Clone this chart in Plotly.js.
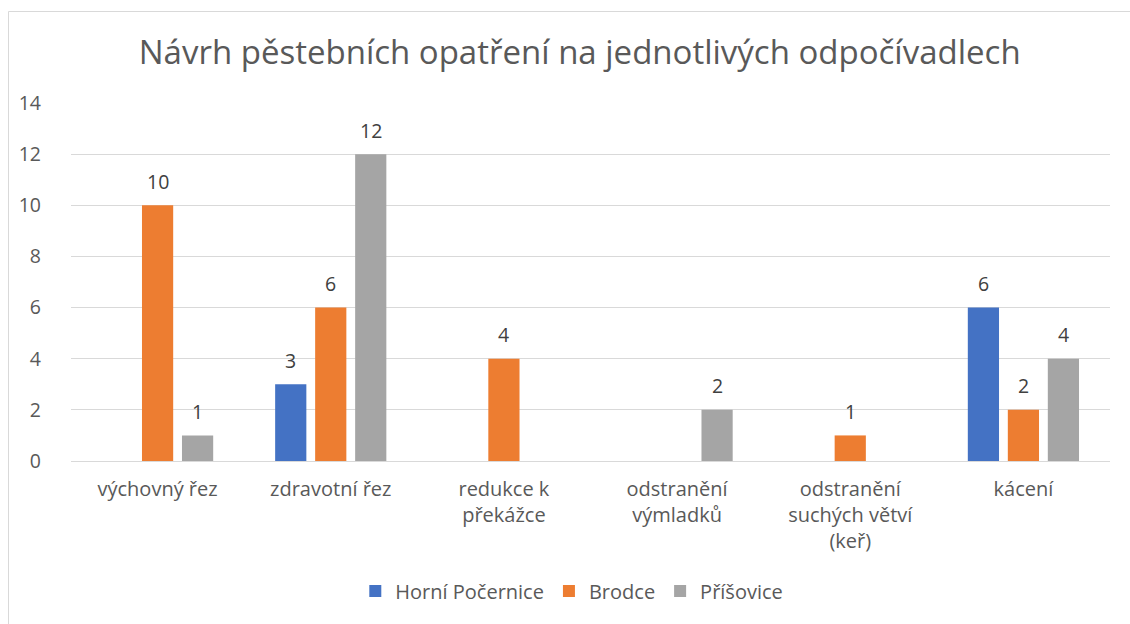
<!DOCTYPE html>
<html><head><meta charset="utf-8">
<script src="https://cdn.plot.ly/plotly-3.0.1.min.js"></script>
<style>body{margin:0;background:#fff}#chart{width:1130px;height:624px}</style>
</head><body><div id="chart"></div>
<script>
const categories = ["výchovný řez", "zdravotní řez", "redukce k<br>překážce", "odstranění<br>výmladků", "odstranění<br>suchých větví<br>(keř)", "kácení"];
const seriesNames = ["Horní Počernice", "Brodce", "Příšovice"];
const horniPocernice = [null, 3, null, null, null, 6];
const brodce = [10, 6, 4, null, 1, 2];
const prisovice = [1, 12, null, 2, null, 4];
const colors = ["#4472C4", "#ED7D31", "#A5A5A5"];
const titleText = "Návrh pěstebních opatření na jednotlivých odpočívadlech";

const FONT = "Open Sans, sans-serif";
const allSeries = [horniPocernice, brodce, prisovice];
const traces = allSeries.map((vals, i) => ({
  type: "bar", name: seriesNames[i], x: categories, y: vals,
  marker: {color: colors[i]}, hoverinfo: "x+y+name"
}));

const bargap = 0.307;
const slot = 1039 * (1 - bargap) / 6 / 3;
const annotations = [];
allSeries.forEach((vals, i) => {
  vals.forEach((v, j) => {
    if (v === null) return;
    annotations.push({x: categories[j], y: v, xref: "x", yref: "y", text: String(v),
      showarrow: false, xshift: (i - 1) * slot, yshift: 24, yanchor: "middle",
      font: {family: FONT, size: 19.5, color: "#404040"}});
  });
});

const L = 71, R = 20, T = 103, B = 163;
const pw = 1130 - L - R, ph = 624 - T - B;
const shapes = [{type: "rect", xref: "paper", yref: "paper",
  x0: (8.5 - L) / pw, x1: (1200 - L) / pw, y0: (624 - T - 700) / ph, y1: 1 + (T - 11.5) / ph,
  line: {color: "#d9d9d9", width: 1}, fillcolor: "rgba(0,0,0,0)", layer: "below"}];

const layout = {
  width: 1130, height: 624,
  margin: {l: L, r: R, t: T, b: B},
  paper_bgcolor: "#fff", plot_bgcolor: "#fff",
  font: {family: FONT, size: 20, color: "#595959"},
  title: {text: titleText, x: 0.513, xanchor: "center", y: 1 - 52 / 624, yanchor: "middle", yref: "container",
    font: {family: FONT, size: 33, color: "#595959"}},
  barmode: "group", bargap: bargap, bargroupgap: 0.22,
  xaxis: {type: "category", showgrid: false, showline: false, zeroline: false, ticks: "",
    ticklabelstandoff: 14, tickfont: {size: 20, color: "#595959"}},
  yaxis: {range: [0, 14], dtick: 2, showgrid: true, gridcolor: "#d9d9d9", gridwidth: 1,
    zeroline: true, zerolinecolor: "#d9d9d9", zerolinewidth: 1, showline: false, ticks: "",
    ticklabelstandoff: 29, tickfont: {size: 19.5, color: "#595959"}},
  legend: {orientation: "h", x: 0.482, xanchor: "center", y: (461 - 591) / ph, yanchor: "middle",
    font: {size: 20, color: "#595959"}, traceorder: "normal"},
  showlegend: true,
  annotations: annotations, shapes: shapes
};
Plotly.newPlot("chart", traces, layout, {displayModeBar: false, staticPlot: true});
</script></body></html>
